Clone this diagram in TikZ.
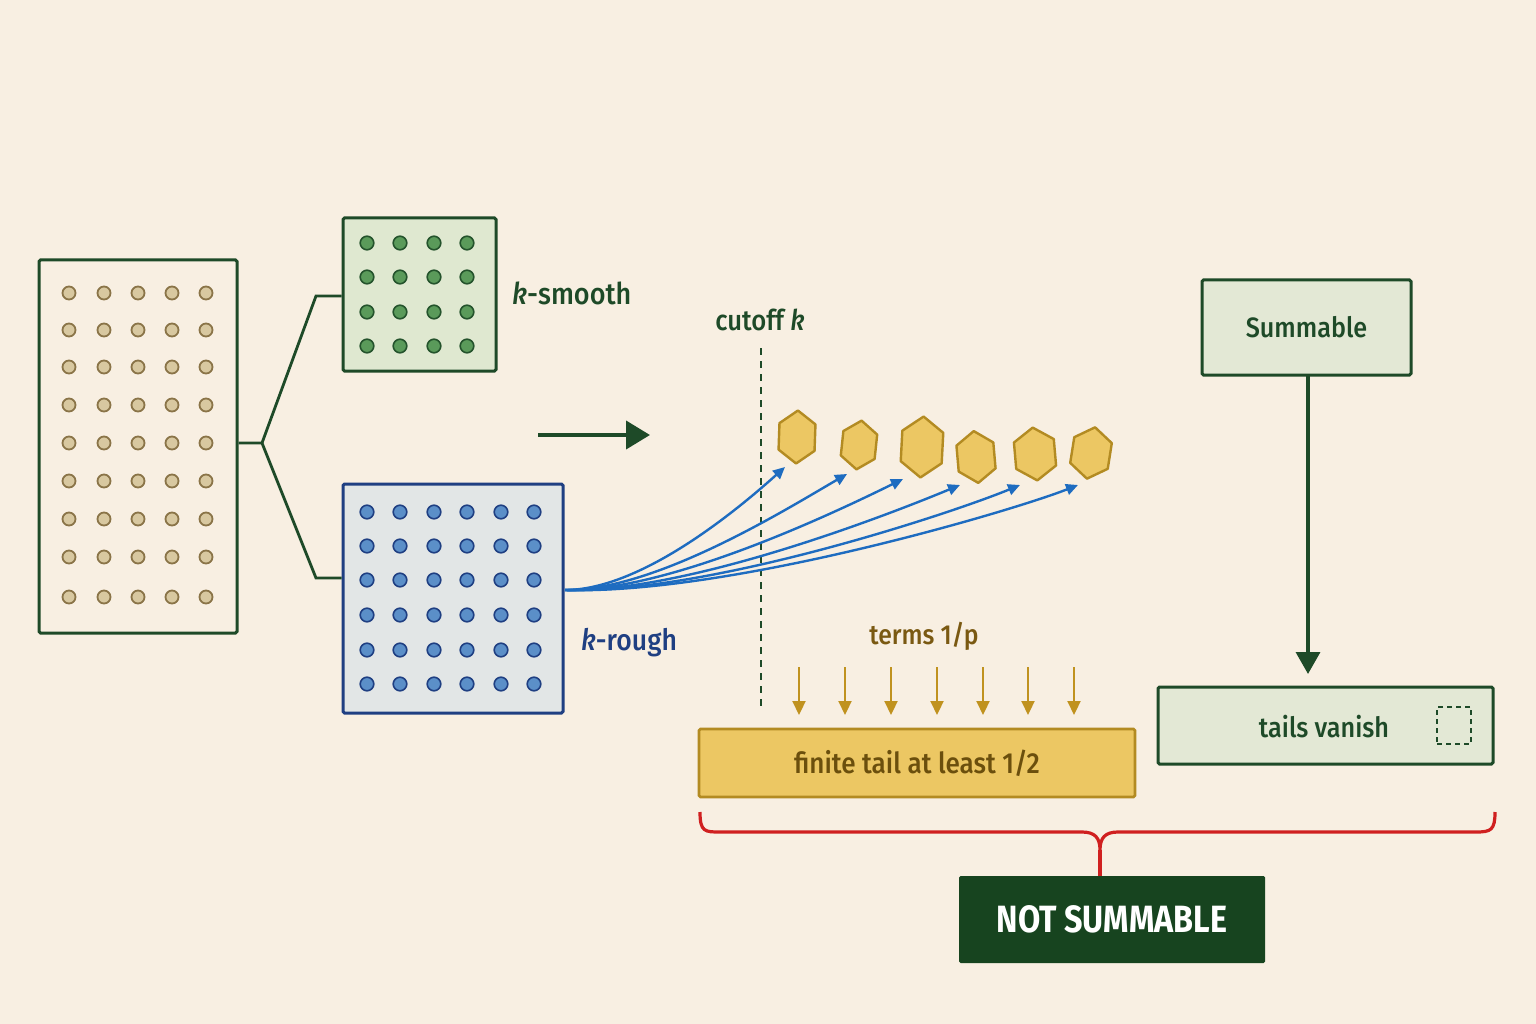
\documentclass[tikz,border=0pt]{standalone}
\usepackage{fontspec}
\setmainfont{Fira Sans}[FakeStretch=0.9, UprightFont=* Medium, ItalicFont=* Medium Italic, BoldFont=* Bold]
\newfontfamily\headfont{Fira Sans}[FakeStretch=0.85]
\usetikzlibrary{arrows.meta}
\definecolor{bg}{HTML}{F8EFE2}
\definecolor{dkgreen}{HTML}{1E4A28}
\definecolor{tanline}{HTML}{8A7448}
\definecolor{tanfill}{HTML}{D8C8A0}
\definecolor{smoothfill}{HTML}{DFE8D0}
\definecolor{smoothdot}{HTML}{5A9A5A}
\definecolor{smoothdotline}{HTML}{24532C}
\definecolor{roughfill}{HTML}{E2E6E6}
\definecolor{blueline}{HTML}{1F3F82}
\definecolor{bluedot}{HTML}{5B8FC8}
\definecolor{flowblue}{HTML}{1E6CC0}
\definecolor{goldfill}{HTML}{ECC763}
\definecolor{goldline}{HTML}{B38B22}
\definecolor{goldtext}{HTML}{6B4F0D}
\definecolor{goldarrow}{HTML}{C0921F}
\definecolor{termtext}{HTML}{7A5912}
\definecolor{sumfill}{HTML}{E3E8D5}
\definecolor{nsfill}{HTML}{17441F}
\definecolor{bracered}{HTML}{D02020}
\newcommand{\myhex}[6]{%
  \begin{scope}[shift={(#1,#2)}, rotate=#5]
    \draw[hexst] (0,{-#4/2}) -- ({#3/2},{-#4/4}) -- ({#3/2},{#4/4}) -- (0,{#4/2}) -- ({-#3/2},{#4/4}) -- ({-#3/2},{-#4/4}) -- cycle;
    \coordinate (#6) at (0,0);
  \end{scope}}
\begin{document}
\begin{tikzpicture}[x=1pt,y=-1pt,
  box/.style={draw=dkgreen, line width=3pt, inner sep=0pt, rounded corners=1.5pt},
  tandot/.style={draw=tanline, fill=tanfill, line width=1.8pt},
  greendot/.style={draw=smoothdotline, fill=smoothdot, line width=1.6pt},
  bluedotst/.style={draw=blueline, fill=bluedot, line width=1.6pt},
  conn/.style={draw=dkgreen, line width=2.8pt},
  flow/.style={draw=flowblue, line width=2.4pt, -{Triangle[length=12pt,width=11pt]}},
  termarrow/.style={draw=goldarrow, line width=2.2pt, -{Triangle[length=14pt,width=13pt]}},
  dkarrow/.style={draw=dkgreen, line width=3.5pt, -{Triangle[length=22pt,width=24pt]}},
  bigarrow/.style={draw=dkgreen, line width=4pt, -{Triangle[length=24pt,width=28pt]}},
  hexst/.style={draw=goldline, fill=goldfill, line width=2.4pt, line join=round},
  lbl/.style={inner sep=0pt},
  bracest/.style={draw=bracered, line width=3.2pt}
]
\fill[bg] (0,0) rectangle (1536,1024);
\useasboundingbox (0,0) rectangle (1536,1024);

% left pool
\node[box, minimum width=198pt, minimum height=373pt] (pool) at (138,446.5) {};
\foreach \c in {69,104,138,172,206}
  \foreach \r in {293,330,367,405,443,481,519,557,597}
    \draw[tandot] (\c,\r) circle[radius=6.5pt];

% smooth box
\node[box, fill=smoothfill, minimum width=153pt, minimum height=153pt] (smooth) at (419.5,294.5) {};
\foreach \c in {367,400,434,467}
  \foreach \r in {243,277,312,346}
    \draw[greendot] (\c,\r) circle[radius=6.8pt];
\node[lbl, text=dkgreen, anchor=west, font=\fontsize{30}{32}\selectfont] (smoothlbl) at (512,293) {\textit{k}-smooth};

% rough box
\node[box, draw=blueline, fill=roughfill, minimum width=220pt, minimum height=229pt] (rough) at (453,598.5) {};
\foreach \c in {367,400,434,467,501,534}
  \foreach \r in {512,546,580,615,650,684}
    \draw[bluedotst] (\c,\r) circle[radius=6.8pt];
\node[lbl, text=blueline, anchor=west, font=\fontsize{29.5}{32}\selectfont] (roughlbl) at (581,643) {\textit{k}-rough};

% fork connector
\coordinate (fork) at (262,443);
\coordinate (ft) at (316,296);
\coordinate (fb) at (316,578);
\draw[conn] (pool.east |- fork) -- (fork) -- (ft) -- (ft -| smooth.west);
\draw[conn] (fork) -- (fb) -- (fb -| rough.west);

% main arrow
\coordinate (a1) at (538,435);
\coordinate (a2) at (650,435);
\draw[bigarrow] (a1) -- (a2);

% cutoff
\node[lbl, text=dkgreen, font=\fontsize{28.5}{31}\selectfont] (cutlbl) at (760,320) {cutoff \textit{k}};
\coordinate (ctop) at (761,348);
\coordinate (cbot) at (761,712);
\draw[draw=dkgreen, line width=1.8pt, dash pattern=on 7pt off 6pt] (ctop) -- (cbot);

% hexagons
\myhex{797}{437}{36}{53}{-2}{h1}
\myhex{859}{445}{34}{49}{-6}{h2}
\myhex{922}{447}{41}{61}{-3}{h3}
\myhex{976}{457}{37}{52}{5}{h4}
\myhex{1035}{454}{40}{53}{5}{h5}
\myhex{1091}{453}{38}{52}{-9}{h6}

% flows
\coordinate (src) at (565,590);
\coordinate (t1) at (785,467);
\coordinate (t2) at (847,474);
\coordinate (t3) at (903,479);
\coordinate (t4) at (960,485);
\coordinate (t5) at (1020,485);
\coordinate (t6) at (1078,485);
\draw[flow] (src) .. controls (640,590) and (735,512) .. (t1);
\draw[flow] (src) .. controls (655,591) and (785,510) .. (t2);
\draw[flow] (src) .. controls (670,592) and (840,510) .. (t3);
\draw[flow] (src) .. controls (690,593) and (895,512) .. (t4);
\draw[flow] (src) .. controls (710,594) and (955,512) .. (t5);
\draw[flow] (src) .. controls (730,595) and (1015,510) .. (t6);

% terms
\node[lbl, text=termtext, font=\fontsize{27.5}{30}\selectfont] (termlbl) at (924,636) {terms 1/p};
\foreach \x [count=\i] in {799,845,891,937,983,1028,1074} {
  \coordinate (ta\i) at (\x,667);
  \coordinate (tb\i) at (\x,715);
  \draw[termarrow] (ta\i) -- (tb\i);
}
\node[draw=goldline, fill=goldfill, line width=2.6pt, rounded corners=1.5pt, minimum width=436pt, minimum height=68pt, text=goldtext, font=\fontsize{29}{31}\selectfont] (tail) at (917,763) {finite tail at least 1/2};

% summable
\node[box, fill=sumfill, minimum width=209pt, minimum height=95pt, text=dkgreen, font=\fontsize{28}{30}\selectfont] (sum) at (1306.5,327.5) {Summable};
\node[box, fill=sumfill, minimum width=335pt, minimum height=77pt] (tails) at (1325.5,725.5) {};
\node[lbl, text=dkgreen, font=\fontsize{28}{30}\selectfont] (tailslbl) at (1324,727) {tails vanish};
\node[draw=dkgreen, line width=1.8pt, dash pattern=on 5pt off 4pt, minimum width=34pt, minimum height=37pt, inner sep=0pt] (mark) at (1454,725.5) {};
\coordinate (sb) at (1308,375);
\coordinate (st) at (1308,674);
\draw[dkarrow] (sb) -- (st);

% brace and verdict
\node[fill=nsfill, rounded corners=1.5pt, minimum width=306pt, minimum height=87pt, text=white, inner sep=0pt] (ns) at (1112,919.5) {\headfont\bfseries\fontsize{38}{40}\selectfont NOT SUMMABLE};
\coordinate (bl) at (700,812);
\coordinate (br) at (1495,812);
\coordinate (bc) at (1100,850);
\draw[bracest] (bl) .. controls (700,832) and (705,832) .. (720,832) -- (1082,832) .. controls (1095,832) and (1100,838) .. (bc) .. controls (1100,838) and (1105,832) .. (1118,832) -- (1476,832) .. controls (1491,832) and (1495,830) .. (br);
\draw[bracest] (bc) -- (ns.north -| bc);
\end{tikzpicture}
\end{document}
